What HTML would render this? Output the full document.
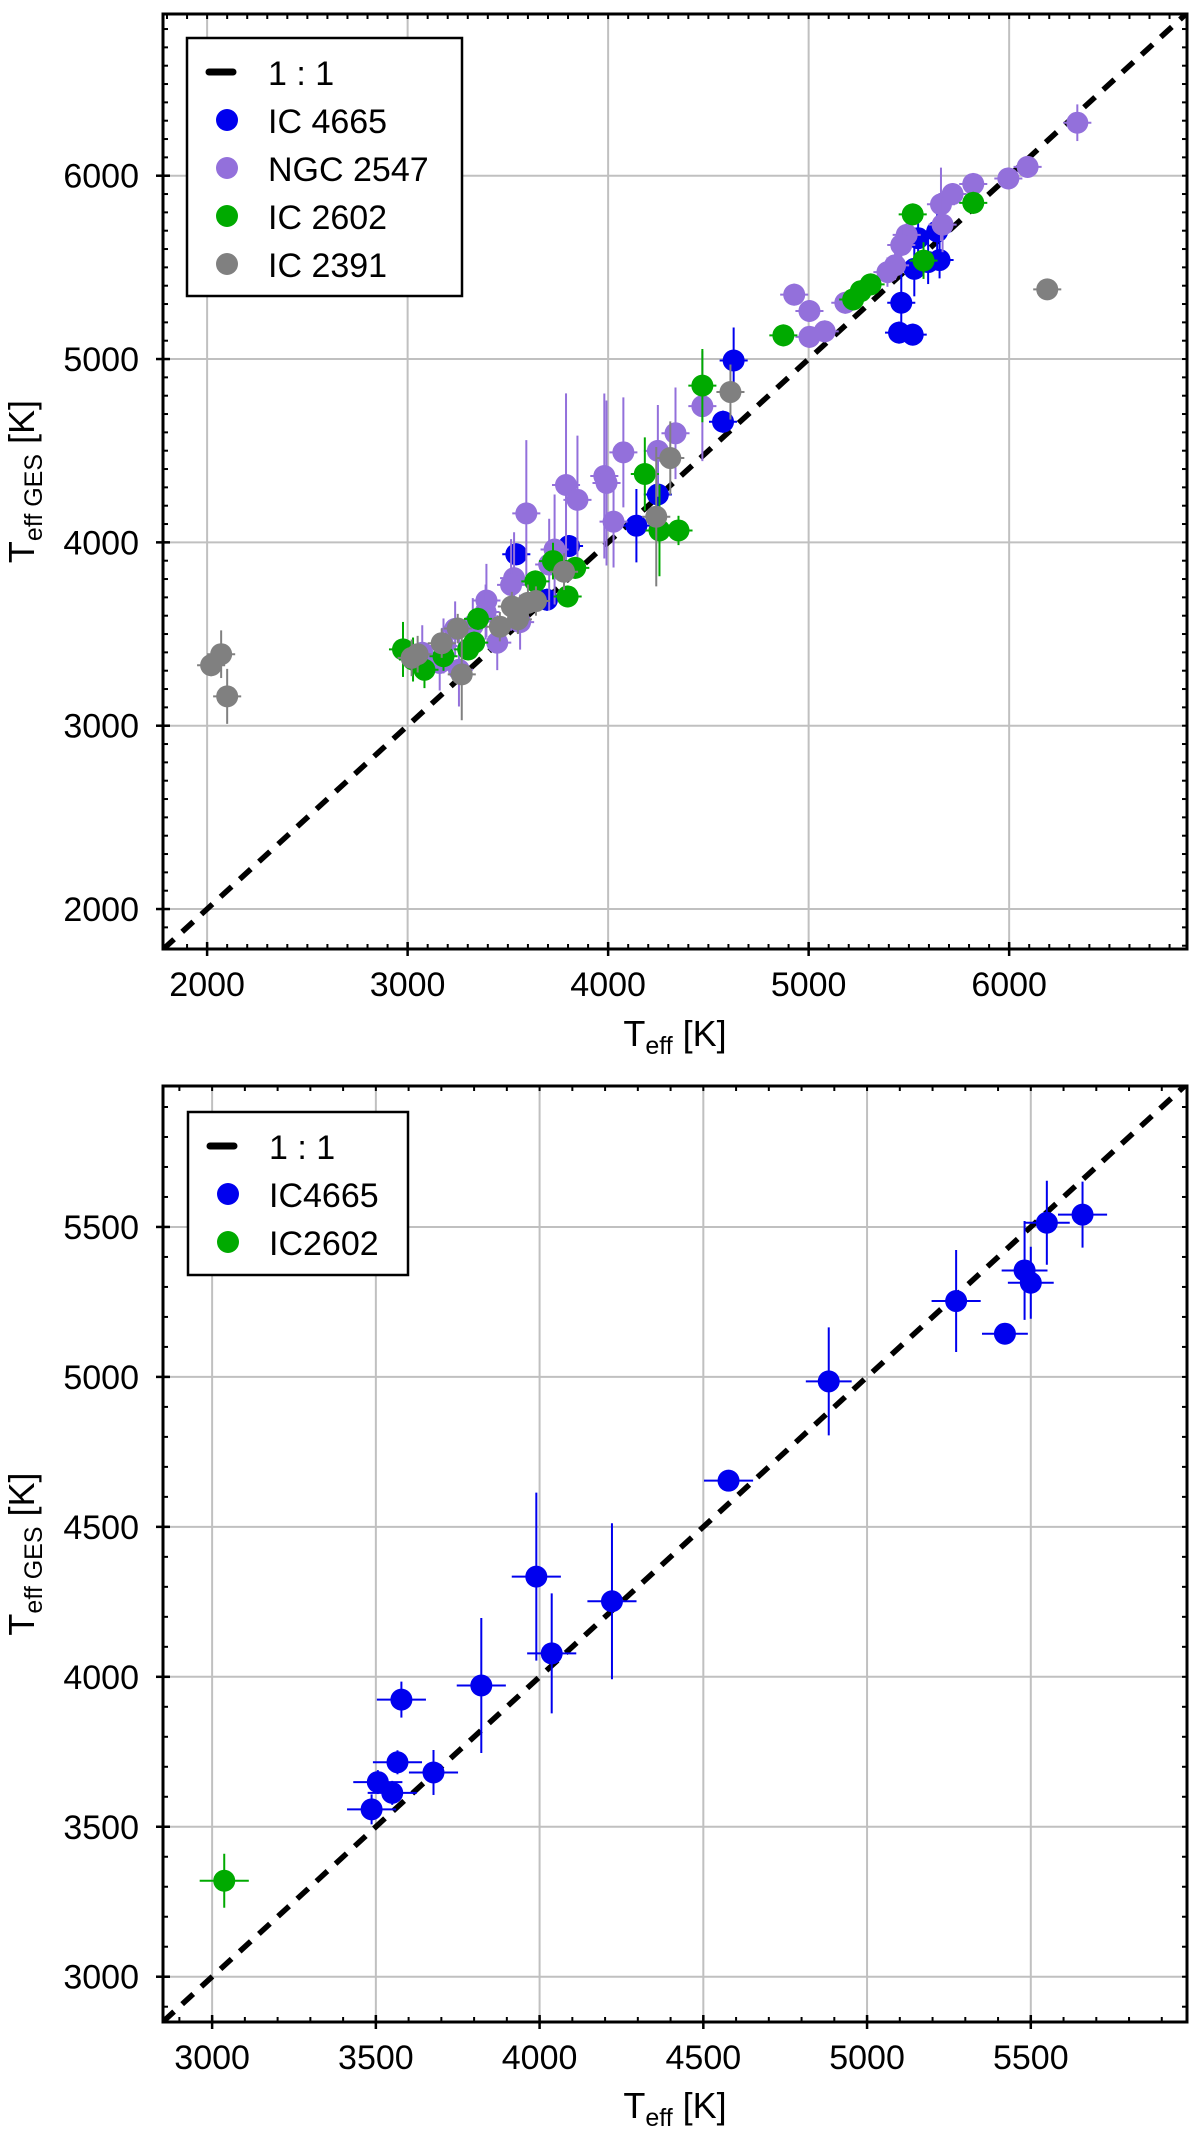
<!DOCTYPE html>
<html><head><meta charset="utf-8"><style>
html,body{margin:0;padding:0;background:#fff;}
svg{display:block;font-family:"Liberation Sans","DejaVu Sans",sans-serif;}
</style></head><body>
<svg id="fig" width="1200" height="2131" viewBox="0 0 1200 2131" xmlns="http://www.w3.org/2000/svg"></svg>
<script>
// ===== Top panel data =====
const topIC4665_T    = [4626,4573,4248,4141,3805,3542,3695,5462,5451,5519,5653,5596,5546,5641,5527];
const topIC4665_G    = [4992,4658,4261,4091,3980,3935,3687,5307,5144,5133,5540,5529,5659,5696,5492];
const topIC4665_eG   = [180,60,250,200,60,60,60,200,60,60,100,120,150,120,150];
const topNGC2547_T   = [6340,6092,5996,5821,5718,5660,5668,5489,5462,5431,5393,4928,5004,5004,5080,5183,4470,4336,4248,4076,3981,3992,4027,3790,3847,3592,3733,3706,3531,3516,3393,3389,3325,3447,3179,3237,3073,3160,3256,3561];
const topNGC2547_G   = [6289,6048,5985,5955,5900,5844,5733,5677,5622,5511,5474,5351,5262,5121,5151,5307,4743,4595,4499,4491,4362,4324,4113,4313,4232,4158,3961,3879,3805,3768,3683,3620,3546,3453,3435,3528,3398,3342,3305,3565];
const topNGC2547_eG  = [100,60,60,60,60,200,150,100,100,80,80,60,60,60,60,60,300,250,250,300,450,450,250,500,350,400,300,250,250,250,200,150,150,150,150,150,150,150,200,150];
const topIC2602_T    = [5821,5519,5573,5309,5260,5222,4874,4470,4183,4256,4351,3798,3725,3637,3351,3332,3302,3179,3084,2977,3027,3836];
const topIC2602_G    = [5852,5789,5537,5407,5370,5325,5129,4855,4373,4065,4065,3705,3898,3787,3583,3453,3416,3379,3305,3416,3361,3861];
const topIC2602_eG   = [60,60,100,60,60,60,60,200,200,250,80,60,100,60,60,60,60,80,100,150,120,60];
const topIC2391_T    = [2020,2070,2100,6190,4610,4310,4240,3780,3600,3520,3460,3250,3170,3050,3020,3270,3550,3640];
const topIC2391_G    = [3330,3390,3160,5380,4820,4460,4140,3840,3670,3650,3540,3530,3450,3390,3370,3280,3580,3680];
const topIC2391_eG   = [60,130,150,40,150,200,380,100,100,80,80,80,80,100,100,250,80,80];
const topTickVals    = [2000,3000,4000,5000,6000];
const topTickLabels  = ["2000","3000","4000","5000","6000"];

// ===== Bottom panel data =====
const botIC4665_T    = [4883,4577,5272,5421,5481,5500,5549,5658,3990,4037,4221,3822,3578,3566,3676,3506,3550,3487];
const botIC4665_G    = [4985,4654,5253,5144,5355,5314,5514,5541,4334,4078,4252,3971,3924,3715,3681,3649,3613,3558];
const botIC4665_eT   = [70,75,75,70,70,70,70,75,75,75,75,75,75,75,75,75,75,75];
const botIC4665_eG   = [180,12,170,15,165,120,140,110,280,200,260,225,60,40,75,40,40,50];
const botIC2602_T    = [3037];
const botIC2602_G    = [3320];
const botIC2602_eT   = [75];
const botIC2602_eG   = [90];
const botTickVals    = [3000,3500,4000,4500,5000,5500];
const botTickLabels  = ["3000","3500","4000","4500","5000","5500"];

const NS = "http://www.w3.org/2000/svg";
const svg = document.getElementById('fig');
function mk(tag, attrs, parent){
  const e = document.createElementNS(NS, tag);
  for (const k in attrs) e.setAttribute(k, attrs[k]);
  (parent||svg).appendChild(e);
  return e;
}

function panel(cfg){
  const g = mk('g', {});
  
  
  const L=cfg.L, R=cfg.R, T=cfg.T, B=cfg.B;
  const sx = v => L + (v-cfg.x0)/(cfg.x1-cfg.x0)*(R-L);
  const sy = v => B - (v-cfg.y0)/(cfg.y1-cfg.y0)*(B-T);
  const clip = mk('clipPath', {id: cfg.name+'-clip'}, g);
  mk('rect', {x:L, y:T, width:R-L, height:B-T}, clip);
  // grid
  const grid = mk('g', {}, g);
  
  
  cfg.ticks.forEach(v=>{
    if (v>cfg.x0 && v<cfg.x1) mk('line',{x1:sx(v),x2:sx(v),y1:T,y2:B,stroke:'#c0c0c0','stroke-width':2},grid);
    if (v>cfg.y0 && v<cfg.y1) mk('line',{x1:L,x2:R,y1:sy(v),y2:sy(v),stroke:'#c0c0c0','stroke-width':2},grid);
  });
  // plot content
  const content = mk('g', {'clip-path':'url(#'+cfg.name+'-clip)'}, g);
  const dl = mk('line', {x1:sx(cfg.x0), y1:sy(cfg.x0), x2:sx(Math.max(cfg.x1,cfg.y1)), y2:sy(Math.max(cfg.x1,cfg.y1)), stroke:'#000','stroke-width':5.5,'stroke-dasharray':'15 11'}, content);
  
  
  cfg.series.forEach(s=>{
    const sg = mk('g', {}, content);
    
    
    for (let i=0;i<s.x.length;i++){
      const cx = sx(s.x[i]), cy = sy(s.y[i]);
      const ex = s.ex ? s.ex[i] : 70, ey = s.ey[i];
      mk('line',{x1:sx(s.x[i]-ex),x2:sx(s.x[i]+ex),y1:cy,y2:cy,stroke:s.color,'stroke-width':2},sg);
      mk('line',{x1:cx,x2:cx,y1:sy(s.y[i]-ey),y2:sy(s.y[i]+ey),stroke:s.color,'stroke-width':2},sg);
      const c = mk('circle',{cx:cx,cy:cy,r:11,fill:s.color},sg);
      
      
    }
  });
  // frame
  mk('rect',{x:L,y:T,width:R-L,height:B-T,fill:'none',stroke:'#000','stroke-width':3},g);
  // minor ticks
  for (let v=Math.ceil(cfg.x0/100)*100; v<cfg.x1; v+=100){
    const x=sx(v);
    mk('line',{x1:x,x2:x,y1:B,y2:B-5,stroke:'#000','stroke-width':2},g);
    mk('line',{x1:x,x2:x,y1:T,y2:T+5,stroke:'#000','stroke-width':2},g);
  }
  for (let v=Math.ceil(cfg.y0/100)*100; v<cfg.y1; v+=100){
    const y=sy(v);
    mk('line',{x1:L,x2:L+5,y1:y,y2:y,stroke:'#000','stroke-width':2},g);
    mk('line',{x1:R,x2:R-5,y1:y,y2:y,stroke:'#000','stroke-width':2},g);
  }
  // major ticks + labels
  cfg.ticks.forEach((v,i)=>{
    if (v>cfg.x0 && v<cfg.x1){
      mk('line',{x1:sx(v),x2:sx(v),y1:B-7,y2:B+7,stroke:'#000','stroke-width':2.5},g);
      const t = mk('text',{x:sx(v),y:B+47,'font-size':34,'text-anchor':'middle',fill:'#000'},g);
      t.textContent = cfg.labels[i];
      
      
    }
    if (v>cfg.y0 && v<cfg.y1){
      mk('line',{x1:L-7,x2:L+7,y1:sy(v),y2:sy(v),stroke:'#000','stroke-width':2.5},g);
      const t = mk('text',{x:L-24,y:sy(v)+12,'font-size':34,'text-anchor':'end',fill:'#000'},g);
      t.textContent = cfg.labels[i];
      
      
    }
  });
  // axis titles
  const xt = mk('text',{x:(L+R)/2,y:cfg.xlabY,'font-size':36,'text-anchor':'middle',fill:'#000'},g);
  xt.innerHTML = 'T<tspan font-size="25" dy="8">eff</tspan><tspan dy="-8"> [K]</tspan>';
  
  
  const yc = (T+B)/2;
  const yt = mk('text',{x:0,y:0,'font-size':36,'text-anchor':'middle',fill:'#000',transform:'translate(34,'+yc+') rotate(-90)'},g);
  yt.innerHTML = 'T<tspan font-size="25" dy="8">eff GES</tspan><tspan dy="-8"> [K]</tspan>';
  
  
  // legend
  const lg = mk('g', {}, g);
  
  
  const lb = cfg.legend;
  mk('rect',{x:lb.x,y:lb.y,width:lb.w,height:lb.h,fill:'#fff',stroke:'#000','stroke-width':2.5},lg);
  const entries = [{label:'1 : 1', line:true}].concat(cfg.series.map(s=>({label:s.label,color:s.color})));
  entries.forEach((e,i)=>{
    const ey = lb.y + 34 + i*48;
    const eg = mk('g', {}, lg);
    
    
    if (e.line) mk('line',{x1:lb.x+22,x2:lb.x+46,y1:ey,y2:ey,stroke:'#000','stroke-width':7,'stroke-linecap':'round'},eg);
    else mk('circle',{cx:lb.x+40,cy:ey,r:11,fill:e.color},eg);
    const t = mk('text',{x:lb.x+81,y:ey+13,'font-size':34,fill:'#000'},eg);
    t.textContent = e.label;
  });
}

panel({
  name:'top-panel', L:163, R:1187, T:14, B:949,
  x0:1780, x1:6887, y0:1782, y1:6882,
  ticks: topTickVals, labels: topTickLabels,
  xlabY:1046,
  legend:{x:187,y:38,w:275,h:258},
  series:[
    {id:'ic4665', label:'IC 4665', color:'#0000ee', x:topIC4665_T, y:topIC4665_G, ey:topIC4665_eG},
    {id:'ngc2547', label:'NGC 2547', color:'#9370db', x:topNGC2547_T, y:topNGC2547_G, ey:topNGC2547_eG},
    {id:'ic2602', label:'IC 2602', color:'#00aa00', x:topIC2602_T, y:topIC2602_G, ey:topIC2602_eG},
    {id:'ic2391', label:'IC 2391', color:'#808080', x:topIC2391_T, y:topIC2391_G, ey:topIC2391_eG}
  ]
});
panel({
  name:'bottom-panel', L:163, R:1187, T:1086, B:2022,
  x0:2850, x1:5977, y0:2849, y1:5970,
  ticks: botTickVals, labels: botTickLabels,
  xlabY:2118,
  legend:{x:188,y:1112,w:220,h:163},
  series:[
    {id:'ic4665', label:'IC4665', color:'#0000ee', x:botIC4665_T, y:botIC4665_G, ex:botIC4665_eT, ey:botIC4665_eG},
    {id:'ic2602', label:'IC2602', color:'#00aa00', x:botIC2602_T, y:botIC2602_G, ex:botIC2602_eT, ey:botIC2602_eG}
  ]
});
</script>
</body></html>
